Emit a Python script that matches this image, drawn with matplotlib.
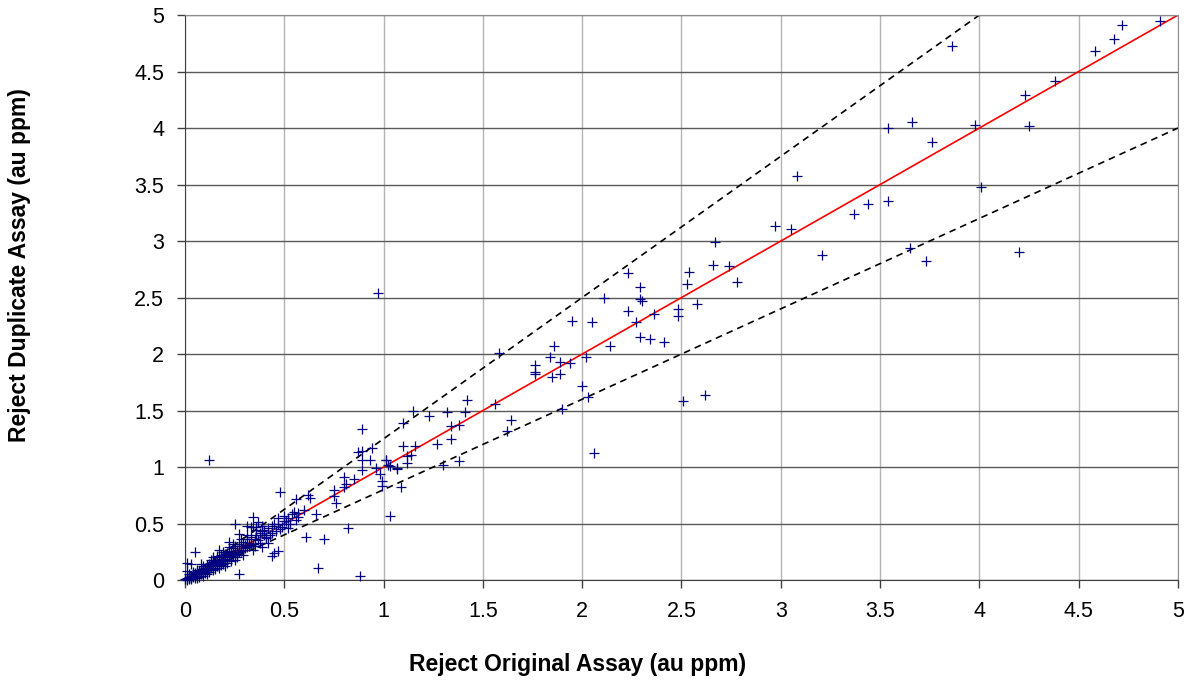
import matplotlib.pyplot as plt
import numpy as np

plt.rcParams["font.family"] = ["Liberation Sans", "DejaVu Sans"]

# reject assay pairs, au ppm: original / duplicate
orig_hi = [
    4.91, 4.72, 4.68, 4.58, 4.38, 4.23, 4.25, 3.98, 3.86, 3.66, 3.54, 3.76,
    4.01, 3.37, 3.44, 3.54, 3.65, 3.73, 4.20, 2.97, 3.05, 2.67, 3.21, 3.08,
    2.23, 2.54, 2.66, 2.74, 2.53, 2.78, 2.29, 2.11, 2.29, 2.30, 2.58, 2.23,
    2.48, 2.48, 2.36, 2.27, 2.14, 2.29, 2.34, 2.41, 2.51, 2.62,
    1.95, 2.05, 1.86, 1.58, 1.84, 1.89, 1.94, 2.02, 1.76, 1.76, 1.76, 1.85,
    1.89, 2.00, 2.03, 1.90, 1.56, 2.06, 1.64, 1.62, 1.42, 1.41, 1.32, 1.23,
    1.15, 1.10, 1.34, 1.38, 1.34, 1.27, 1.38, 1.30, 1.16, 1.10, 1.14, 1.12,
    1.12, 1.01, 1.03, 1.07, 1.09, 0.97,
]
dup_hi = [
    4.95, 4.91, 4.79, 4.68, 4.42, 4.29, 4.02, 4.03, 4.73, 4.05, 4.00, 3.88,
    3.48, 3.24, 3.33, 3.35, 2.94, 2.82, 2.90, 3.13, 3.11, 2.99, 2.88, 3.58,
    2.72, 2.73, 2.79, 2.78, 2.62, 2.64, 2.59, 2.50, 2.49, 2.47, 2.44, 2.38,
    2.40, 2.34, 2.35, 2.28, 2.07, 2.15, 2.13, 2.11, 1.58, 1.64,
    2.29, 2.28, 2.07, 2.01, 1.97, 1.93, 1.92, 1.97, 1.90, 1.84, 1.82, 1.80,
    1.82, 1.72, 1.62, 1.51, 1.56, 1.12, 1.42, 1.32, 1.59, 1.49, 1.49, 1.45,
    1.50, 1.39, 1.36, 1.37, 1.25, 1.20, 1.05, 1.02, 1.19, 1.19, 1.11, 1.10,
    1.04, 1.06, 1.01, 0.98, 0.82, 2.54,
]

orig_mid = [
    0.12, 0.89, 0.94, 0.89, 0.87, 0.89, 0.93, 0.96, 1.01, 1.02, 1.07, 0.98,
    0.99, 0.99, 1.03, 0.88, 0.67, 0.82, 0.89, 0.80, 0.85, 0.81, 0.80, 0.75,
    0.76, 0.75, 0.62, 0.63, 0.56, 0.66, 0.61, 0.70, 0.48, 0.44, 0.45, 0.47,
    0.39, 0.41, 0.34, 0.36, 0.34, 0.25, 0.50, 0.51, 0.54, 0.56, 0.49, 0.52,
    0.57, 0.05, 0.27, 0.01,
]
dup_mid = [
    1.06, 1.34, 1.17, 1.14, 1.13, 1.06, 1.06, 0.99, 1.06, 1.02, 0.99, 0.94,
    0.88, 0.83, 0.57, 0.04, 0.11, 0.46, 0.97, 0.91, 0.89, 0.85, 0.82, 0.74,
    0.68, 0.80, 0.75, 0.73, 0.72, 0.58, 0.38, 0.36, 0.78, 0.21, 0.24, 0.26,
    0.43, 0.38, 0.56, 0.47, 0.47, 0.50, 0.57, 0.52, 0.58, 0.53, 0.47, 0.46,
    0.59, 0.25, 0.05, 0.15,
]

orig_lo = [
    0.00, 0.01, 0.01, 0.02, 0.02, 0.02, 0.03, 0.03, 0.03, 0.04, 0.04, 0.04,
    0.05, 0.05, 0.05, 0.06, 0.06, 0.06, 0.07, 0.07, 0.07, 0.08, 0.08, 0.08,
    0.09, 0.09, 0.09, 0.10, 0.10, 0.10, 0.11, 0.11, 0.11, 0.12, 0.12, 0.12,
    0.13, 0.13, 0.13, 0.14, 0.14, 0.14, 0.15, 0.15, 0.15, 0.16, 0.16, 0.16,
    0.17, 0.17, 0.18, 0.18, 0.18, 0.19, 0.19, 0.20, 0.20, 0.20, 0.21, 0.21,
    0.22, 0.22, 0.23, 0.23, 0.24, 0.24, 0.25, 0.25, 0.26, 0.26, 0.27, 0.27,
    0.28, 0.28, 0.29, 0.29, 0.30, 0.30, 0.31, 0.31, 0.32, 0.32, 0.33, 0.33,
    0.34, 0.35, 0.35, 0.36, 0.37, 0.38, 0.38, 0.40, 0.41, 0.42, 0.43, 0.44,
    0.46, 0.47, 0.48, 0.50, 0.52, 0.53, 0.55, 0.57, 0.60, 0.03, 0.05, 0.07,
    0.08, 0.10, 0.12, 0.14, 0.15, 0.17, 0.19, 0.21, 0.23, 0.09, 0.06, 0.04,
    0.02, 0.13, 0.16, 0.19, 0.24, 0.28, 0.31, 0.26, 0.29, 0.34, 0.20, 0.11,
    0.01, 0.03, 0.08, 0.14, 0.22, 0.18, 0.25, 0.06, 0.09, 0.36, 0.39, 0.33,
    0.37, 0.40, 0.44, 0.45, 0.47, 0.31, 0.27, 0.22, 0.17, 0.42, 0.39,
]
dup_lo = [
    0.01, 0.00, 0.02, 0.01, 0.03, 0.02, 0.02, 0.04, 0.03, 0.03, 0.05, 0.04,
    0.04, 0.06, 0.05, 0.05, 0.07, 0.04, 0.06, 0.08, 0.07, 0.06, 0.09, 0.08,
    0.07, 0.10, 0.09, 0.08, 0.11, 0.10, 0.09, 0.12, 0.13, 0.10, 0.12, 0.14,
    0.11, 0.13, 0.15, 0.12, 0.16, 0.14, 0.13, 0.17, 0.15, 0.14, 0.18, 0.12,
    0.16, 0.20, 0.15, 0.19, 0.22, 0.17, 0.21, 0.18, 0.23, 0.20, 0.19, 0.24,
    0.20, 0.26, 0.21, 0.25, 0.22, 0.28, 0.23, 0.30, 0.24, 0.27, 0.25, 0.32,
    0.26, 0.30, 0.27, 0.34, 0.28, 0.31, 0.29, 0.36, 0.30, 0.33, 0.31, 0.38,
    0.32, 0.36, 0.30, 0.40, 0.35, 0.42, 0.33, 0.44, 0.37, 0.46, 0.40, 0.48,
    0.43, 0.50, 0.45, 0.52, 0.55, 0.50, 0.60, 0.56, 0.62, 0.01, 0.02, 0.03,
    0.05, 0.06, 0.07, 0.09, 0.10, 0.11, 0.14, 0.15, 0.17, 0.12, 0.09, 0.07,
    0.05, 0.18, 0.21, 0.25, 0.32, 0.36, 0.40, 0.20, 0.22, 0.27, 0.12, 0.05,
    0.08, 0.14, 0.14, 0.20, 0.29, 0.13, 0.18, 0.02, 0.04, 0.44, 0.48, 0.47,
    0.51, 0.40, 0.42, 0.50, 0.55, 0.48, 0.41, 0.34, 0.27, 0.33, 0.29,
]

original = orig_lo + orig_mid + orig_hi
duplicate = dup_lo + dup_mid + dup_hi

# reference lines: 1:1 and +/-20 % envelope
ref_x = [0.0, 5.0]
upper_slope = 1.25
lower_slope = 0.8

fig = plt.figure(figsize=(11.89, 6.84), dpi=100)
ax = fig.add_axes([0.1556, 0.152, 0.8351, 0.826])

ax.set_xlim(0, 5)
ax.set_ylim(0, 5)
ticks = np.arange(0, 5.01, 0.5)
ax.set_xticks(ticks)
ax.set_yticks(ticks)
ax.set_xticklabels([f"{t:g}" for t in ticks])
ax.set_yticklabels([f"{t:g}" for t in ticks])

ax.yaxis.grid(True, color="#5a5a5a", lw=1.0)
ax.xaxis.grid(True, color="#b4b4b4", lw=1.0)
ax.set_axisbelow(True)

for side in ["top", "right"]:
    ax.spines[side].set_color("#8c8c8c")
for side in ["left", "bottom"]:
    ax.spines[side].set_color("#404040")

ax.tick_params(direction="out", length=6, width=1, color="#404040",
               labelsize=15.5)
ax.tick_params(axis="x", pad=9)
ax.tick_params(axis="y", pad=9)

ax.plot(ref_x, [upper_slope * v for v in ref_x], color="black", lw=1.2,
        ls=(0, (4, 3)))
ax.plot(ref_x, [lower_slope * v for v in ref_x], color="black", lw=1.2,
        ls=(0, (4, 3)))
ax.plot(ref_x, ref_x, color="#ff0000", lw=1.2)

ax.plot(original, duplicate, ls="none", marker="+", color="#000080",
        markersize=7.5, markeredgewidth=0.9, clip_on=False, zorder=3)

fig.text(0.486, 0.028, "Reject Original Assay (au ppm)", fontsize=16.5,
         fontweight="bold", ha="center", va="center")
fig.text(0.016, 0.613, "Reject Duplicate Assay (au ppm)", fontsize=16.5,
         fontweight="bold", ha="center", va="center", rotation=90)

fig.savefig("out.png", dpi=100)
